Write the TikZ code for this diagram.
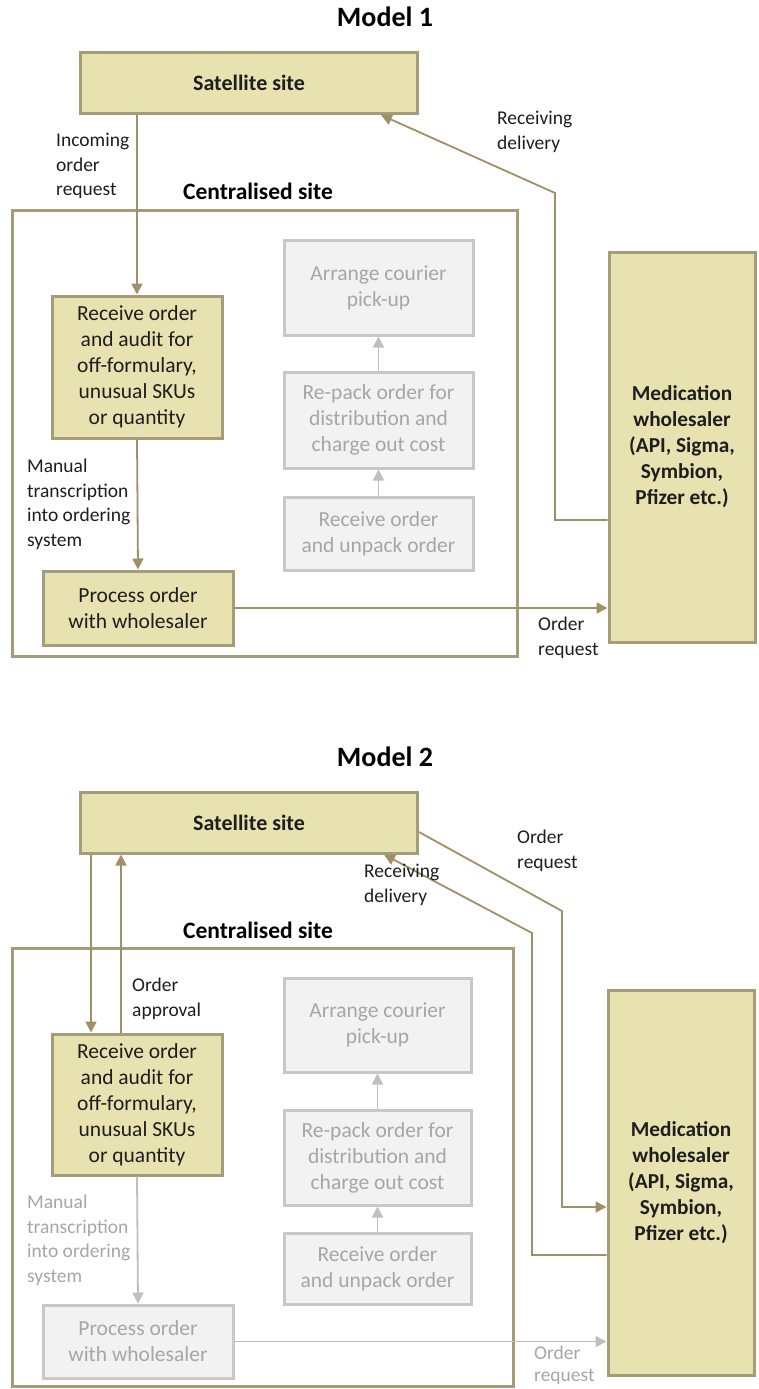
\documentclass[tikz,border=0pt]{standalone}
\usepackage{fontspec}
\setmainfont{Carlito}
\usetikzlibrary{arrows.meta}

\definecolor{olivefill}{HTML}{E8E1B0}
\definecolor{olivebd}{HTML}{A59D7A}
\definecolor{olivearrow}{HTML}{A0906A}
\definecolor{greyfill}{HTML}{F2F2F2}
\definecolor{greybd}{HTML}{C8C8C8}
\definecolor{greytext}{HTML}{A6A6A6}
\definecolor{greyarrow}{HTML}{BFBFBF}
\definecolor{ink}{HTML}{1E1E1E}

\tikzset{
  olivebox/.style={draw=olivebd, fill=olivefill, line width=3pt, align=center,
    inner sep=0pt, text=ink, font=\fontsize{21.5}{26}\selectfont},
  greybox/.style={draw=greybd, fill=greyfill, line width=3pt, align=center,
    inner sep=0pt, text=greytext, font=\fontsize{21.5}{26}\selectfont},
  sitebox/.style={draw=olivebd, line width=3pt, inner sep=0pt},
  boldbox/.style={olivebox, font=\bfseries\fontsize{21.3}{26}\selectfont},
  satbox/.style={olivebox, font=\bfseries\fontsize{22}{26}\selectfont},
  heading/.style={font=\bfseries\fontsize{28}{32}\selectfont, text=black},
  sitelabel/.style={font=\bfseries\fontsize{23.5}{28}\selectfont, text=black},
  flowlabel/.style={font=\fontsize{19.5}{24.5}\selectfont, align=left, text=ink,
    anchor=north west, inner sep=0pt},
  greylabel/.style={flowlabel, text=greytext},
  olivearr/.style={draw=olivearrow, line width=1.8pt,
    -{Triangle[length=11pt,width=11pt]}},
  greyarr/.style={draw=greyarrow, line width=1.8pt,
    -{Triangle[length=11pt,width=11pt]}}
}

\begin{document}
\begin{tikzpicture}[x=1pt,y=-1pt]
\useasboundingbox (0,0) rectangle (758,1389);

% ---------------- Model 1 ----------------
\node[heading] (title1) at (385,17) {Model 1};

\node[sitebox, minimum width=505pt, minimum height=446pt] (cent1) at (264.5,433) {};
\node[sitelabel] (centlab1) at (258,191) {Centralised site};

\node[satbox, minimum width=337pt, minimum height=61pt] (sat1) at (249,83) {Satellite site};
\node[boldbox, minimum width=146pt, minimum height=390pt] (whs1) at (682,447)
  {Medication\\wholesaler\\(API, Sigma,\\Symbion,\\Pfizer etc.)};

\node[olivebox, minimum width=170pt, minimum height=142pt] (rcv1) at (137,367)
  {Receive order\\and audit for\\off-formulary,\\unusual SKUs\\or quantity};
\node[olivebox, minimum width=190pt, minimum height=74pt] (proc1) at (138,608)
  {Process order\\with wholesaler};

\node[greybox, minimum width=189pt, minimum height=95pt] (arr1) at (378.5,287.5)
  {Arrange courier\\pick-up};
\node[greybox, minimum width=189pt, minimum height=96pt] (pack1) at (378.5,420)
  {Re-pack order for\\distribution and\\charge out cost};
\node[greybox, minimum width=189pt, minimum height=73pt] (unp1) at (378.5,533.5)
  {Receive order\\and unpack order};

\draw[olivearr] (rcv1.north |- sat1.south) -- (rcv1.north);
\draw[olivearr] (rcv1.south) -- (proc1.north);
\draw[olivearr] (proc1.east) -- (proc1.east -| whs1.west);
\coordinate (dlv1) at ([xshift=-38pt]sat1.south east);
\draw[olivearr] (whs1.west |- 0,520) -- (555,520) -- (555,193) -- (dlv1);
\draw[greyarr] (unp1.north) -- (pack1.south);
\draw[greyarr] (pack1.north) -- (arr1.south);

\node[flowlabel] (lin1) at (56,133) {Incoming\\order\\request};
\node[flowlabel] (lrd1) at (497,111) {Receiving\\delivery};
\node[flowlabel] (lman1) at (27,459) {Manual\\transcription\\into ordering\\system};
\node[flowlabel] (lor1) at (538,617) {Order\\request};

% ---------------- Model 2 ----------------
\node[heading] (title2) at (385,757) {Model 2};

\node[sitebox, minimum width=501pt, minimum height=438pt] (cent2) at (262.5,1167) {};
\node[sitelabel] (centlab2) at (258,930) {Centralised site};

\node[satbox, minimum width=337pt, minimum height=61pt] (sat2) at (249,822.5) {Satellite site};
\node[boldbox, minimum width=146pt, minimum height=385pt] (whs2) at (681,1182.5)
  {Medication\\wholesaler\\(API, Sigma,\\Symbion,\\Pfizer etc.)};

\node[olivebox, minimum width=170pt, minimum height=141pt] (rcv2) at (137,1104.5)
  {Receive order\\and audit for\\off-formulary,\\unusual SKUs\\or quantity};
\node[greybox, minimum width=190pt, minimum height=73pt] (proc2) at (138,1341.5)
  {Process order\\with wholesaler};

\node[greybox, minimum width=187pt, minimum height=94pt] (arr2) at (377.5,1025)
  {Arrange courier\\pick-up};
\node[greybox, minimum width=187pt, minimum height=95pt] (pack2) at (377.5,1157.5)
  {Re-pack order for\\distribution and\\charge out cost};
\node[greybox, minimum width=187pt, minimum height=71pt] (unp2) at (377.5,1268.5)
  {Receive order\\and unpack order};

\draw[olivearr] (91,0 |- sat2.south) -- (91,0 |- rcv2.north);
\draw[olivearr] (121,0 |- rcv2.north) -- (121,0 |- sat2.south);
\draw[greyarr] (rcv2.south) -- (proc2.north);
\draw[greyarr] (proc2.east) -- (proc2.east -| whs2.west);
\draw[olivearr] (sat2.east |- 0,832) -- (562,911) -- (562,1207) -- (whs2.west |- 0,1207);
\coordinate (dlv2) at ([xshift=-35pt]sat2.south east);
\draw[olivearr] (whs2.west |- 0,1255) -- (532,1255) -- (532,933) -- (dlv2);
\draw[greyarr] (unp2.north) -- (pack2.south);
\draw[greyarr] (pack2.north) -- (arr2.south);

\node[flowlabel] (lor2) at (517,830) {Order\\request};
\node[flowlabel] (lrd2) at (364,864) {Receiving\\delivery};
\node[flowlabel] (lap2) at (132,978) {Order\\approval};
\node[greylabel] (lman2) at (27,1195) {Manual\\transcription\\into ordering\\system};
\node[greylabel, font=\fontsize{19.5}{22}\selectfont] (lor2g) at (534,1346) {Order\\request};
\end{tikzpicture}
\end{document}
